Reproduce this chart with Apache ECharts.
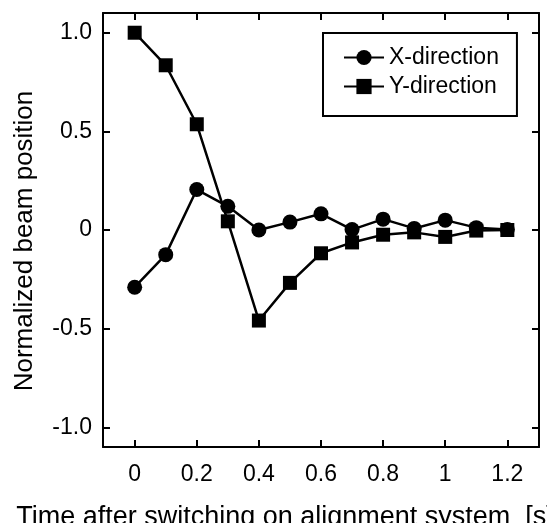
<!DOCTYPE html>
<html>
<head>
<meta charset="utf-8">
<script src="https://cdn.jsdelivr.net/npm/echarts@6/dist/echarts.min.js"></script>
<style>
  html, body { margin: 0; padding: 0; background: #fff; }
  #chart { width: 547px; height: 523px; }
</style>
</head>
<body>
<div id="chart"></div>
<script>
// 时间 (s)
const times = [0, 0.1, 0.2, 0.3, 0.4, 0.5, 0.6, 0.7, 0.8, 0.9, 1.0, 1.1, 1.2];
// X 方向
const xDirection = [-0.29, -0.125, 0.205, 0.12, 0.0, 0.04, 0.082, 0.002, 0.055, 0.008, 0.05, 0.012, 0.003];
// Y 方向
const yDirection = [1.0, 0.835, 0.536, 0.044, -0.459, -0.268, -0.118, -0.063, -0.024, -0.012, -0.035, -0.003, 0.0];
// 刻度
const xTicks = [0, 0.2, 0.4, 0.6, 0.8, 1, 1.2];
const yTicks = [-1, -0.5, 0, 0.5, 1];

const font = "'Liberation Sans', Arial, sans-serif";
const black = '#000';

const myChart = echarts.init(document.getElementById('chart'), null, { renderer: 'canvas' });

// 公共的坐标轴样式
const lineStyle = { color: black, width: 2 };
const tickStyle = { show: true, inside: true, length: 7, lineStyle: { color: black, width: 2 } };

const option = {
  animation: false,
  backgroundColor: '#fff',
  grid: {
    left: 103,
    right: 8,
    top: 13,
    bottom: 76,
    containLabel: false,
    outerBoundsMode: 'none' // 固定绘图区，不随标签缩放
  },
  legend: {
    orient: 'vertical',
    left: 323,
    top: 33,
    itemWidth: 40,
    itemHeight: 19,
    itemGap: 6,
    padding: [13, 18, 18, 20],
    borderColor: black,
    borderWidth: 2,
    backgroundColor: '#fff',
    textStyle: { color: black, fontFamily: font, fontSize: 23, lineHeight: 23 },
    data: ['X-direction', 'Y-direction']
  },
  xAxis: [
    {
      type: 'value',
      min: -0.102,
      max: 1.302,
      name: 'Time after switching on alignment system  [s]',
      nameLocation: 'middle',
      nameGap: 57,
      nameTextStyle: { color: black, fontFamily: font, fontSize: 27, padding: [0, 72, 0, 0] },
      axisLine: { show: true, onZero: false, lineStyle },
      axisTick: Object.assign({ customValues: xTicks }, tickStyle),
      axisLabel: {
        customValues: xTicks,
        color: black,
        fontFamily: font,
        fontSize: 23,
        margin: 16,
        formatter: v => String(v)
      },
      splitLine: { show: false }
    },
    {
      // 顶部边框 + 刻度
      type: 'value',
      position: 'top',
      min: -0.102,
      max: 1.302,
      axisLine: { show: true, onZero: false, lineStyle },
      axisTick: Object.assign({ customValues: xTicks }, tickStyle),
      axisLabel: { show: false },
      splitLine: { show: false }
    }
  ],
  yAxis: [
    {
      type: 'value',
      min: -1.1,
      max: 1.1,
      name: 'Normalized beam position',
      nameLocation: 'middle',
      nameGap: 65,
      nameTextStyle: { color: black, fontFamily: font, fontSize: 26, padding: [0, 22, 0, 0] },
      axisLine: { show: true, onZero: false, lineStyle },
      axisTick: Object.assign({ customValues: yTicks }, tickStyle),
      axisLabel: {
        customValues: yTicks,
        color: black,
        fontFamily: font,
        fontSize: 23,
        margin: 11,
        formatter: v => (v === 0 ? '0' : v.toFixed(1))
      },
      splitLine: { show: false }
    },
    {
      // 右侧边框 + 刻度
      type: 'value',
      position: 'right',
      min: -1.1,
      max: 1.1,
      axisLine: { show: true, onZero: false, lineStyle },
      axisTick: Object.assign({ customValues: yTicks }, tickStyle),
      axisLabel: { show: false },
      splitLine: { show: false }
    }
  ],
  series: [
    {
      name: 'X-direction',
      type: 'line',
      data: times.map((t, i) => [t, xDirection[i]]),
      symbol: 'circle',
      symbolSize: 15,
      itemStyle: { color: black },
      lineStyle: { color: black, width: 2.5 }
    },
    {
      name: 'Y-direction',
      type: 'line',
      data: times.map((t, i) => [t, yDirection[i]]),
      symbol: 'rect',
      symbolSize: 14,
      itemStyle: { color: black },
      lineStyle: { color: black, width: 2.5 }
    }
  ]
};

myChart.setOption(option);
</script>
</body>
</html>
